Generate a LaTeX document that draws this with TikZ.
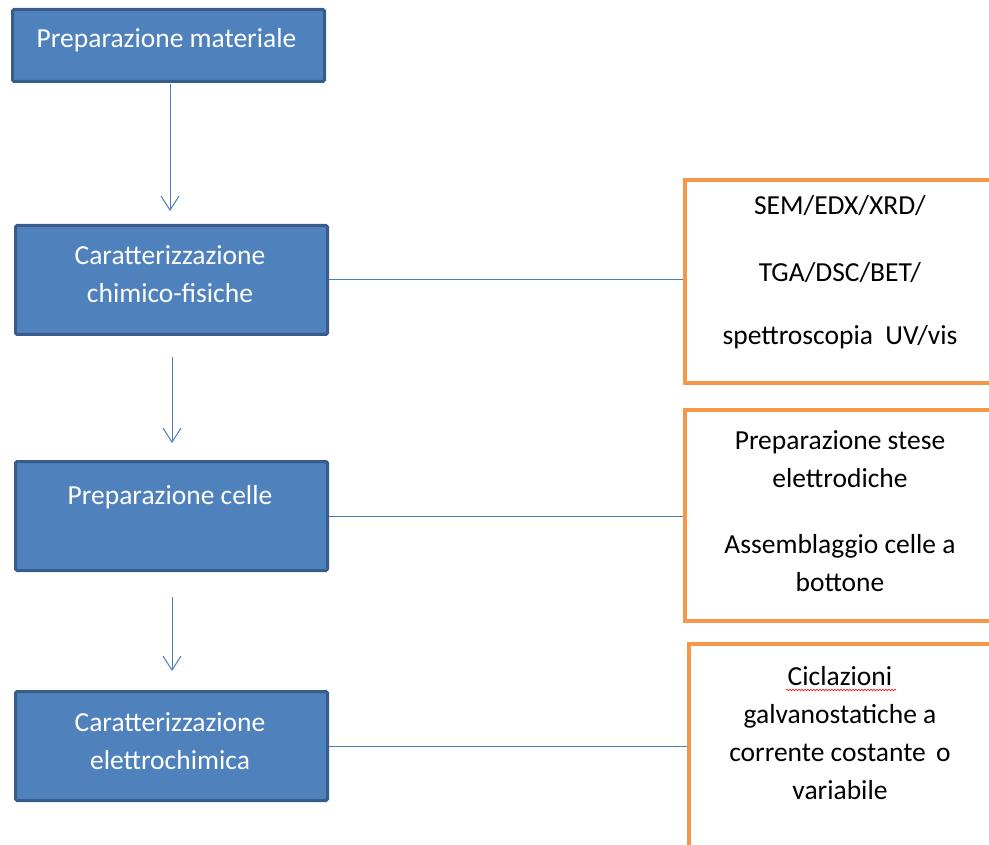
\documentclass[tikz,border=0pt]{standalone}
\usepackage{fontspec}
\setmainfont{Carlito}
\usetikzlibrary{arrows.meta,decorations.pathmorphing}
\definecolor{bfill}{HTML}{4F81BD}
\definecolor{bdraw}{HTML}{385D8A}
\definecolor{oline}{HTML}{F79646}
\definecolor{conn}{HTML}{4A7EBB}
\begin{document}
\begin{tikzpicture}[x=1pt,y=-1pt,
  bluebox/.style={draw=bdraw,fill=bfill,line width=3pt,rounded corners=1.5pt,
    minimum width=312pt,inner sep=0pt},
  orbox/.style={draw=oline,line width=3.5pt,inner sep=0pt},
  wtext/.style={text=white,font=\fontsize{27.5}{38}\selectfont,align=center,inner sep=0pt},
  btext/.style={text=black,font=\fontsize{27.5}{38}\selectfont,align=center,inner sep=0pt},
  conline/.style={draw=conn,line width=1pt},
  conarrow/.style={draw=conn,line width=1pt,-{Straight Barb[length=14pt,width=18pt]}}]
\useasboundingbox (0,0) rectangle (989,845);
\clip (0,0) rectangle (989,845);

% blue boxes
\node[bluebox,minimum height=72pt] (b1) at (168.5,45.5) {};
\node[bluebox,minimum height=109pt] (b2) at (171.5,280) {};
\node[bluebox,minimum height=109pt] (b3) at (171.5,516) {};
\node[bluebox,minimum height=109pt] (b4) at (171.5,746) {};

\node[wtext] (t1) at (166.5,40) {Preparazione materiale};
\node[wtext] (t2) at (170,274) {Caratterizzazione\\chimico-fisiche};
\node[wtext] (t3) at (170,497) {Preparazione celle};
\node[wtext] (t4) at (170,741) {Caratterizzazione\\elettrochimica};

% orange boxes
\node[orbox,minimum width=315pt,minimum height=203pt] (oA) at (842.5,281.5) {};
\node[orbox,minimum width=315pt,minimum height=211pt] (oB) at (842.5,515.5) {};
\node[orbox,minimum width=311pt,minimum height=216pt] (oC) at (844.5,752) {};

\node[btext] (sA1) at (840,206) {SEM/EDX/XRD/};
\node[btext] (sA2) at (840,273) {TGA/DSC/BET/};
\node[btext] (sA3) at (840,337) {spettroscopia\ \ UV/vis};

\node[btext] (sB1) at (840,459) {Preparazione stese\\elettrodiche};
\node[btext] (sB2) at (840,563.5) {Assemblaggio celle a\\bottone};

\node[btext] (sC) at (840,733.5) {Ciclazioni\\galvanostatiche a\\corrente costante\hspace{0.15em} o\\variabile};

% spell-check squiggle
\coordinate (sq1) at (786,690);
\coordinate (sq2) at (896,690);
\draw[red,line width=0.6pt,decorate,decoration={snake,amplitude=0.8pt,segment length=3pt}] (sq1) -- (sq2);

% arrows
\coordinate (a1s) at (170,84);
\coordinate (a1e) at (170,211);
\coordinate (a2s) at (172,357);
\coordinate (a2e) at (172,443);
\coordinate (a3s) at (172,597);
\coordinate (a3e) at (172,671);
\draw[conarrow] (a1s) -- (a1e);
\draw[conarrow] (a2s) -- (a2e);
\draw[conarrow] (a3s) -- (a3e);

% horizontal connectors
\draw[conline] (b2.east) -- (b2.east -| oA.west);
\draw[conline] (b3.east) -- (b3.east -| oB.west);
\draw[conline] (b4.east) -- (b4.east -| oC.west);
\end{tikzpicture}
\end{document}
